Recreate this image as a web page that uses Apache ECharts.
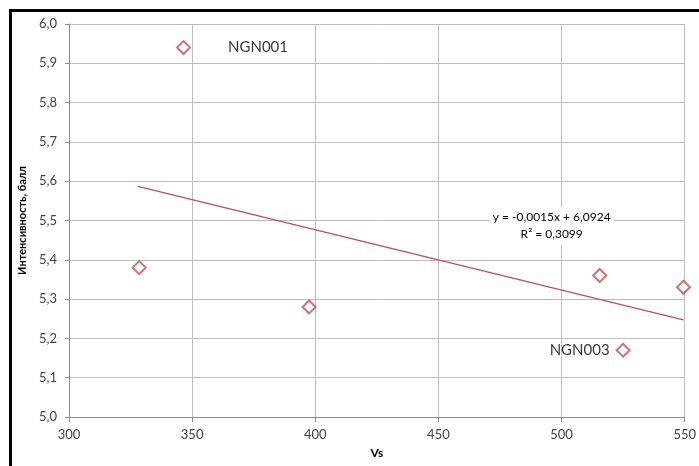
<!DOCTYPE html>
<html>
<head>
<meta charset="utf-8">
<script src="https://cdn.jsdelivr.net/npm/echarts@6/dist/echarts.min.js"></script>
<style>
html,body{margin:0;padding:0;background:#fff;}
#c{width:699px;height:466px;}
</style>
</head>
<body>
<div id="c"></div>
<script>
// Data
var stationNames = ['', 'NGN001', '', '', 'NGN003', ''];
var vsValues = [328.5, 346.5, 397.5, 515.5, 525, 549.5];
var intensityValues = [5.38, 5.94, 5.28, 5.36, 5.17, 5.33];
var trendX = [328, 549.5];
var trendY = [5.587, 5.247];
var equationLines = ['y = -0,0015x + 6,0924', 'R² = 0,3099'];
var equationAt = [496, 5.486];
var xTicks = {min: 300, max: 550, interval: 50};
var yTicks = {min: 5.0, max: 6.0, interval: 0.1};
var xName = 'Vs';
var yName = 'Интенсивность, балл';

var FONT = 'Lato';
var red = '#c0504d';

var scatterData = vsValues.map(function (x, i) {
  var d = {value: [x, intensityValues[i]], name: stationNames[i]};
  if (stationNames[i] === 'NGN001') {
    d.label = {show: true, position: 'right', distance: 37, formatter: '{b}'};
  } else if (stationNames[i] === 'NGN003') {
    d.label = {show: true, position: 'left', distance: 6, formatter: '{b}'};
  }
  return d;
});
var trendData = trendX.map(function (x, i) { return [x, trendY[i]]; });

var chart = echarts.init(document.getElementById('c'), null, {renderer: 'canvas'});
chart.setOption({
  animation: false,
  backgroundColor: '#fff',
  textStyle: {fontFamily: FONT},
  grid: {left: 69, right: 11, top: 24, bottom: 49, containLabel: false},
  graphic: [
    {type: 'line', shape: {x1: 10.5, y1: 9, x2: 10.5, y2: 466}, style: {stroke: '#000', lineWidth: 3}},
    {type: 'line', shape: {x1: 9, y1: 10.5, x2: 699, y2: 10.5}, style: {stroke: '#000', lineWidth: 3}}
  ],
  xAxis: {
    type: 'value', min: xTicks.min, max: xTicks.max, interval: xTicks.interval,
    name: xName, nameLocation: 'middle', nameGap: 30,
    nameTextStyle: {fontFamily: FONT, fontSize: 12, fontWeight: 'bold', color: '#000'},
    axisLine: {show: true, onZero: false, lineStyle: {color: '#8c8c8c', width: 1}},
    axisTick: {show: true, length: 5, inside: false, lineStyle: {color: '#8c8c8c'}},
    axisLabel: {fontFamily: FONT, fontSize: 13, color: '#404040', margin: 11},
    splitLine: {show: true, lineStyle: {color: '#bdbdbd', width: 1}}
  },
  yAxis: {
    type: 'value', min: yTicks.min, max: yTicks.max, interval: yTicks.interval,
    name: yName, nameLocation: 'middle', nameGap: 34, nameRotate: 90,
    nameTextStyle: {fontFamily: FONT, fontSize: 11, fontWeight: 'bold', color: '#000'},
    axisLine: {show: true, onZero: false, lineStyle: {color: '#8c8c8c', width: 1}},
    axisTick: {show: true, length: 4, lineStyle: {color: '#8c8c8c'}},
    axisLabel: {fontFamily: FONT, fontSize: 13, color: '#404040', margin: 12,
      formatter: function (v) { return v.toFixed(1).replace('.', ','); }},
    splitLine: {show: true, lineStyle: {color: '#bdbdbd', width: 1}}
  },
  series: [
    {
      type: 'line', data: trendData, symbol: 'none', silent: true,
      lineStyle: {color: red, width: 1.3}, z: 3,
      markPoint: {
        symbol: 'rect', symbolSize: 0, silent: true,
        data: [{coord: equationAt, value: 0}],
        label: {show: true, position: 'inside', fontFamily: FONT, fontSize: 12, color: '#000',
          lineHeight: 17, align: 'center', backgroundColor: '#fff', padding: [2, 3],
          formatter: function () { return equationLines.join('\n'); }}
      }
    },
    {
      type: 'scatter', data: scatterData, symbol: 'diamond', symbolSize: 13, z: 4,
      itemStyle: {color: '#fff', borderColor: red, borderWidth: 2},
      label: {show: false, fontFamily: FONT, fontSize: 15, color: '#000'}
    }
  ]
});
</script>
</body>
</html>
